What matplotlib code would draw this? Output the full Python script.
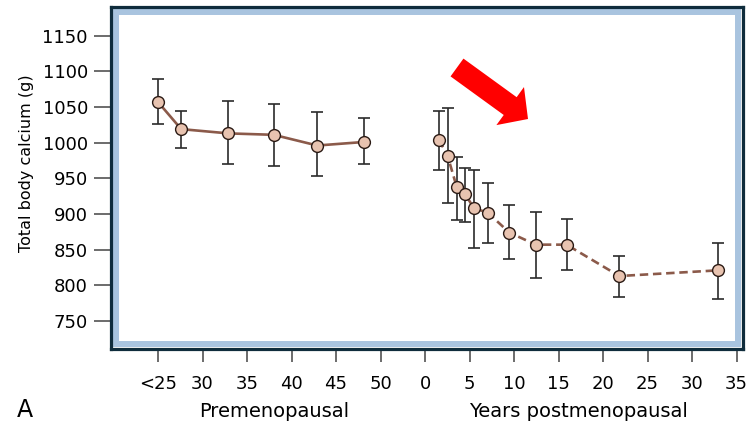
import matplotlib
matplotlib.use("Agg")
import matplotlib.pyplot as plt
from matplotlib.patches import Rectangle, FancyArrow
from matplotlib.transforms import IdentityTransform, blended_transform_factory

# premenopausal: age (years), total body calcium (g) with error bar ends
pre_age = [25, 27.6, 32.9, 38.0, 42.9, 48.2]
pre_mean = [1057, 1019, 1013, 1011, 996, 1001]
pre_upper = [1089, 1044, 1059, 1054, 1043, 1034]
pre_lower = [1026, 992, 970, 967, 953, 970]

# postmenopausal: years since menopause
post_years = [1.57, 2.55, 3.56, 4.49, 5.51, 7.04, 9.47, 12.44, 15.9, 21.83, 32.95]
post_mean = [1004, 981, 938, 928, 908, 902, 874, 857, 857, 813, 821]
post_upper = [1044, 1048, 980, 965, 961, 943, 913, 903, 893, 841, 860]
post_lower = [962, 915, 892, 889, 853, 860, 837, 810, 821, 783, 781]

tick_labels = ['<25', '30', '35', '40', '45', '50',
               '0', '5', '10', '15', '20', '25', '30', '35']
y_ticks = [750, 800, 850, 900, 950, 1000, 1050, 1100, 1150]

LINE_C = '#8b5a4a'
FILL_C = '#e8c3b0'
EDGE_C = '#2a1a14'
BAR_C = '#2b2b2b'
DARK = '#0f2c3c'
LIGHT = '#a9c4df'

plt.rcParams['font.family'] = 'DejaVu Sans'


def pre_pos(a):
    return [(v - 25) / 5 for v in a]


def post_pos(y):
    return [6 + v / 5 for v in y]


fig = plt.figure(figsize=(7.46, 4.24), dpi=100)
ax = fig.add_axes([111.5 / 746, 75 / 424, 631.5 / 746, 342 / 424])

for xs, m, up, lo, ls in [
    (pre_pos(pre_age), pre_mean, pre_upper, pre_lower, '-'),
    (post_pos(post_years), post_mean, post_upper, post_lower, (0, (3.2, 1.8))),
]:
    yerr = [[a - b for a, b in zip(m, lo)], [b - a for a, b in zip(m, up)]]
    ax.errorbar(xs, m, yerr=yerr, fmt='none', ecolor=BAR_C, elinewidth=1.2,
                capsize=4, capthick=1.2, zorder=3)
    ax.plot(xs, m, color=LINE_C, lw=1.9, ls=ls, zorder=2)
    ax.plot(xs, m, 'o', ms=8.5, mfc=FILL_C, mec=EDGE_C, mew=1.0, zorder=4)

ax.set_xlim(-1.045, 13.146)
ax.set_ylim(710.7, 1190.2)
ax.set_xticks(range(len(tick_labels)))
ax.set_xticklabels(tick_labels)
ax.set_yticks(y_ticks)

for s in ax.spines.values():
    s.set_color(DARK)
    s.set_linewidth(2.3)

# light blue inner band of the frame
dx, dy = 4.6 / 631.5, 4.6 / 342
ax.add_patch(Rectangle((dx, dy), 1 - 2 * dx, 1 - 2 * dy, transform=ax.transAxes,
                       fill=False, edgecolor=LIGHT, lw=4.3, zorder=1))

ax.tick_params(axis='y', length=12, width=1.1, color='#444444', pad=5,
               labelsize=13)
ax.tick_params(axis='x', length=9.5, width=1.1, color='#444444', pad=9,
               labelsize=13)

fig.text(26 / 746, (424 - 163.5) / 424, 'Total body calcium (g)', rotation=90,
         ha='center', va='center', fontsize=11.5)

tr = blended_transform_factory(ax.transData, fig.transFigure)
ax.text(2.6, (424 - 417.3) / 424, 'Premenopausal', transform=tr,
        ha='center', va='baseline', fontsize=14)
ax.text(9.44, (424 - 417.3) / 424, 'Years postmenopausal', transform=tr,
        ha='center', va='baseline', fontsize=14)
fig.text(17 / 746, (424 - 416.7) / 424, 'A', fontsize=17, va='baseline')

arrow = FancyArrow(457, 424 - 67.5, 71, -51.5, width=22, head_width=47,
                   head_length=22, length_includes_head=True,
                   transform=IdentityTransform(), color='red', lw=0)
fig.add_artist(arrow)

fig.savefig('out.png', dpi=100)
